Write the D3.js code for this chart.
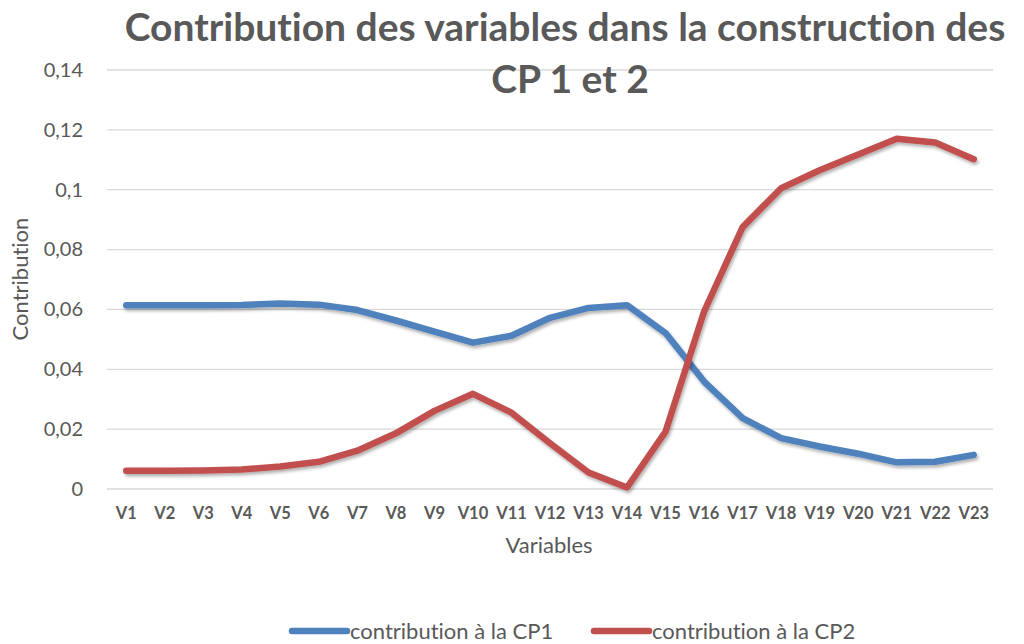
<!DOCTYPE html>
<html>
<head>
<meta charset="utf-8">
<script src="https://cdn.jsdelivr.net/npm/d3@7"></script>
<style>
  html, body { margin: 0; padding: 0; background: #fff; }
  svg { display: block; font-family: Lato, "Open Sans", sans-serif; }
  svg text { font-variant-ligatures: none; font-feature-settings: "liga" 0, "clig" 0; }
</style>
</head>
<body>
<svg id="chart" width="1024" height="644"></svg>
<script>
// Variables along the x axis
const variables = ["V1","V2","V3","V4","V5","V6","V7","V8","V9","V10","V11","V12",
                   "V13","V14","V15","V16","V17","V18","V19","V20","V21","V22","V23"];
// Contribution of each variable to the first principal component
const cp1 = [0.0614, 0.0614, 0.0614, 0.0615, 0.0620, 0.0616, 0.0598, 0.0563, 0.0526, 0.0489,
             0.0512, 0.0572, 0.0605, 0.0614, 0.0521, 0.0359, 0.0237, 0.0170, 0.0142, 0.0118,
             0.0089, 0.0091, 0.0114];
// Contribution of each variable to the second principal component
const cp2 = [0.0061, 0.0061, 0.0062, 0.0065, 0.0075, 0.0091, 0.0128, 0.0186, 0.0261, 0.0318,
             0.0255, 0.0153, 0.0055, 0.0005, 0.0192, 0.0593, 0.0875, 0.1005, 0.1065, 0.1118,
             0.1170, 0.1158, 0.1102];
const yTicks = [0, 0.02, 0.04, 0.06, 0.08, 0.10, 0.12, 0.14];
const seriesNames = ["contribution à la CP1", "contribution à la CP2"];
const seriesColors = ["#4F81BD", "#C0504D"];

const svg = d3.select("#chart");
const margin = { left: 107, right: 31, top: 70, bottom: 155 };
const W = 1024, H = 644;

const x = d3.scaleBand().domain(variables).range([margin.left, W - margin.right]);
const y = d3.scaleLinear().domain([0, 0.14]).range([H - margin.bottom, margin.top]);

const textGray = "#595959";
const fmt = v => v === 0 ? "0" : d3.format(".2~f")(v).replace(".", ",");

// Soft drop shadow under the lines
const defs = svg.append("defs");
const f = defs.append("filter").attr("id", "shadow")
  .attr("x", "-5%").attr("y", "-5%").attr("width", "110%").attr("height", "120%");
f.append("feDropShadow").attr("dx", 1.5).attr("dy", 2.5).attr("stdDeviation", 1.5)
  .attr("flood-color", "#000").attr("flood-opacity", 0.3);

// Horizontal gridlines
svg.append("g").selectAll("line").data(yTicks).join("line")
  .attr("x1", margin.left).attr("x2", W - margin.right)
  .attr("y1", d => y(d)).attr("y2", d => y(d))
  .attr("stroke", "#d9d9d9").attr("stroke-width", 1.3);

// Y axis labels
const yAxis = d3.axisLeft(y).tickValues(yTicks).tickFormat(fmt).tickSize(0).tickPadding(24);
const gy = svg.append("g").attr("transform", `translate(${margin.left},0)`).call(yAxis);
gy.select(".domain").remove();
gy.selectAll("text").attr("fill", textGray).attr("font-size", 20)
  .attr("font-family", "Lato, 'Open Sans', sans-serif");

// X axis labels
const xAxis = d3.axisBottom(x).tickSize(0).tickPadding(18);
const gx = svg.append("g").attr("transform", `translate(0,${y(0)})`).call(xAxis);
gx.select(".domain").remove();
gx.selectAll("text").attr("fill", textGray).attr("font-size", 16.5).attr("font-weight", "bold")
  .attr("font-family", "Lato, 'Open Sans', sans-serif");

// Lines
const line = d3.line().x((d, i) => x(variables[i]) + x.bandwidth() / 2).y(d => y(d));
[cp1, cp2].forEach((s, k) => {
  svg.append("path").datum(s).attr("d", line)
    .attr("fill", "none").attr("stroke", seriesColors[k]).attr("stroke-width", 6.5)
    .attr("stroke-linejoin", "round").attr("stroke-linecap", "round")
    .attr("filter", "url(#shadow)");
});

// Title
const title = svg.append("text").attr("text-anchor", "middle")
  .attr("fill", textGray).attr("font-weight", "bold").attr("font-size", 39);
title.append("tspan").attr("x", 565).attr("y", 41).text("Contribution des variables dans la construction des");
title.append("tspan").attr("x", 570).attr("y", 93).text("CP 1 et 2");

// Axis titles
svg.append("text").attr("x", 549).attr("y", 553).attr("text-anchor", "middle")
  .attr("fill", textGray).attr("font-size", 22).text("Variables");
svg.append("text").attr("transform", "translate(28,279) rotate(-90)").attr("text-anchor", "middle")
  .attr("fill", textGray).attr("font-size", 22).text("Contribution");

// Legend
const legendX = [292, 594];
seriesNames.forEach((n, k) => {
  const g = svg.append("g").attr("transform", `translate(${legendX[k]},631)`);
  g.append("line").attr("x1", 0).attr("x2", 55).attr("y1", 0).attr("y2", 0)
    .attr("stroke", seriesColors[k]).attr("stroke-width", 6.5).attr("stroke-linecap", "round");
  g.append("text").attr("x", 58).attr("y", 7.5).attr("fill", textGray)
    .attr("font-size", 22).text(n);
});
</script>
</body>
</html>
